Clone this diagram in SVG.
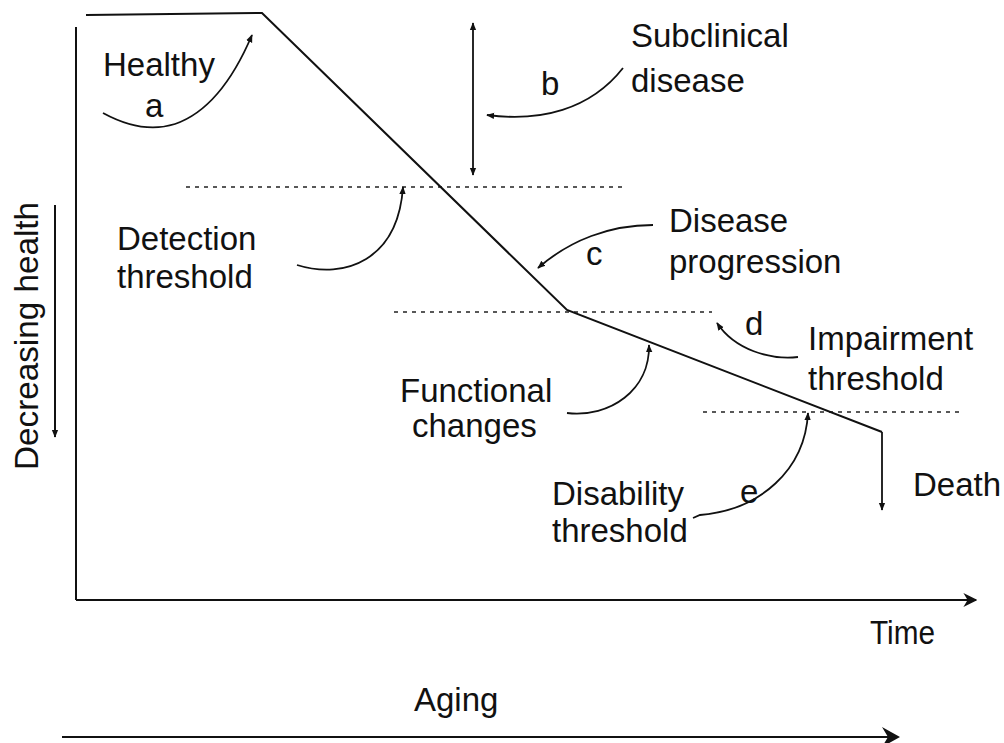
<svg xmlns="http://www.w3.org/2000/svg" width="1004" height="743" viewBox="0 0 1004 743">
<style>
text{font-family:"Liberation Sans",Arial,sans-serif;font-size:33px;fill:#111}
.ln{fill:none;stroke:#111;stroke-width:2}
.cv{fill:none;stroke:#111;stroke-width:1.8}
.dot{fill:none;stroke:#222;stroke-width:1.6;stroke-dasharray:4 5}
</style>
<defs>
<marker id="ah" viewBox="0 0 10 10" refX="9" refY="5" markerWidth="8" markerHeight="8" markerUnits="userSpaceOnUse" orient="auto">
<path d="M0,1 L10,5 L0,9 Z" fill="#111"/>
</marker>
<marker id="ahs" viewBox="0 0 10 10" refX="1" refY="5" markerWidth="8" markerHeight="8" markerUnits="userSpaceOnUse" orient="auto">
<path d="M10,1 L0,5 L10,9 Z" fill="#111"/>
</marker>
<marker id="big" viewBox="0 0 10 10" refX="9" refY="5" markerWidth="14" markerHeight="14" markerUnits="userSpaceOnUse" orient="auto">
<path d="M0,0 L10,5 L0,10 L3,5 Z" fill="#111"/>
</marker>
<marker id="huge" viewBox="0 0 10 10" refX="9" refY="5" markerWidth="20" markerHeight="20" markerUnits="userSpaceOnUse" orient="auto">
<path d="M1,0 L10,5 L1,10 L4,5 Z" fill="#111"/>
</marker>
</defs>
<g id="axes">
<path class="ln" d="M76,27 L76,600" stroke-width="2.5"/>
<path class="ln" d="M76,600 L976,600" stroke-width="2.5" marker-end="url(#big)"/>
<path class="ln" d="M62,737 L898,737" stroke-width="5" marker-end="url(#huge)"/>
<path class="ln" d="M55,205 L55,437" stroke-width="1.5" marker-end="url(#ah)"/>
</g>
<g id="thresholds">
<path class="dot" d="M186,187 L624,187"/>
<path class="dot" d="M394,312 L712,312"/>
<path class="dot" d="M703,412 L964,412"/>
</g>
<g id="health-curve">
<path class="ln" d="M86,15 L262,13 L567,310 L882,432"/>
</g>
<g id="connectors">
<path class="cv" d="M103,113 C125,125 150,132 175,124 C210,112 235,75 252,35" marker-end="url(#ah)"/>
<path class="cv" d="M473,23 L473,175" marker-start="url(#ahs)" marker-end="url(#ah)"/>
<path class="cv" d="M623,68 C590,110 540,122 487,115" marker-end="url(#ah)"/>
<path class="cv" d="M297,265 C345,280 398,260 403,187" marker-end="url(#ah)"/>
<path class="cv" d="M653,225 C610,225 570,240 538,268" marker-end="url(#ah)"/>
<path class="cv" d="M798,357 C770,360 735,350 717,323" marker-end="url(#ah)"/>
<path class="cv" d="M567,413 C610,418 650,390 649,345" marker-end="url(#ah)"/>
<path class="cv" d="M693,518 L700,515 C760,510 805,470 808,413" marker-end="url(#ah)"/>
<path class="cv" d="M882,432 L882,510" marker-end="url(#ah)"/>
</g>
<g id="labels">
<text x="103" y="76">Healthy</text>
<text x="145" y="117">a</text>
<text x="541" y="95">b</text>
<text x="631" y="47">Subclinical</text>
<text x="631" y="92">disease</text>
<text x="117" y="250">Detection</text>
<text x="117" y="288">threshold</text>
<text x="586" y="265">c</text>
<text x="669" y="232">Disease</text>
<text x="669" y="273">progression</text>
<text x="745" y="335">d</text>
<text x="808" y="350">Impairment</text>
<text x="808" y="390">threshold</text>
<text x="400" y="402">Functional</text>
<text x="412" y="437">changes</text>
<text x="552" y="505">Disability</text>
<text x="552" y="542">threshold</text>
<text x="740" y="503">e</text>
<text x="913" y="496">Death</text>
<text x="870" y="644" textLength="65" lengthAdjust="spacingAndGlyphs">Time</text>
<text x="414" y="711" font-size="32">Aging</text>
<text transform="translate(38,470) rotate(-90)" textLength="268" lengthAdjust="spacingAndGlyphs">Decreasing health</text>
</g>
</svg>
